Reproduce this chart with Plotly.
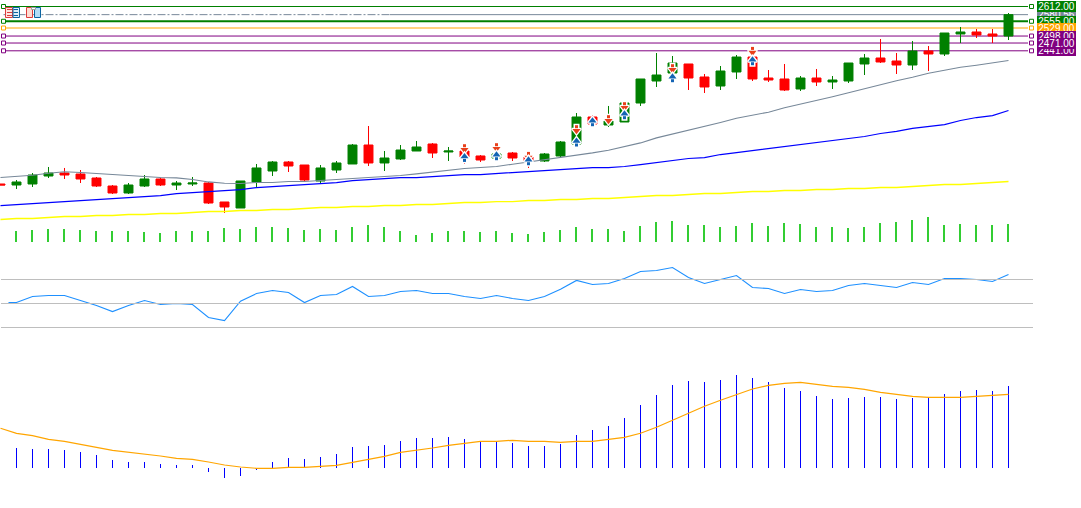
import plotly.graph_objects as go

W, H = 1081, 508

# ---------- data ----------
bars = list(range(64))
opens = [1926.9,1923,1926.9,1957.7,1969.3,1965.4,1950,1919.1,1892.1,1919.1,1946.2,1923,1926.9,1930.7,1857.4,1834.2,1934.6,1977,2011.8,2000.2,1938.4,1980.9,2004.1,2077.4,2008,2023.4,2054.2,2081.3,2050.4,2054.2,2035,2027.2,2046.5,2031.1,2015.6,2035,2081.3,2185.5,2154.6,2166.2,2239.5,2324.4,2355.3,2390.1,2339.9,2305.1,2359.2,2417,2336,2332.2,2293.6,2336,2320.6,2324.4,2390.1,2413.2,2401.6,2386.2,2440.2,2428.7,2505.9,2513.6,2505.9,2498.1]
closes = [1923,1934.6,1961.6,1969.3,1961.6,1946.2,1919.1,1892.1,1923,1946.2,1923,1930.7,1930.7,1853.5,1838.1,1938.4,1988.7,2011.8,1996.3,1942.3,1988.7,2008,2077.4,2008,2027.2,2058.1,2069.7,2046.5,2054.2,2031.1,2019.5,2042.7,2027.2,2015.6,2042.7,2089,2185.5,2158.5,2170,2239.5,2332.2,2347.6,2393.9,2336,2301.3,2363,2417,2332.2,2328.3,2289.7,2336,2320.6,2328.3,2393.9,2413.2,2397.8,2386.2,2440.2,2428.7,2509.7,2513.6,2502,2498.1,2580.56]
highs = [1926.9,1942.3,1969.3,1992.5,1988.7,1980.9,1953.9,1923,1930.7,1961.6,1950,1938.4,1953.9,1934.6,1857.4,1938.4,2004.1,2015.6,2015.6,2000.2,2000.2,2015.6,2081.3,2150.7,2054.2,2077.4,2092.8,2085.1,2069.7,2065.8,2038.8,2054.2,2050.4,2038.8,2046.5,2092.8,2200.9,2193.2,2228,2239.5,2332.2,2432.5,2420.9,2390.1,2351.5,2382.3,2424.8,2417,2366.9,2390.1,2343.7,2370.8,2343.7,2393.9,2428.7,2486.6,2432.5,2478.8,2459.5,2509.7,2532.9,2525.2,2525.2,2586.9]
lows = [1923,1907.6,1915.3,1950,1946.2,1930.7,1915.3,1888.3,1888.3,1915.3,1919.1,1903.7,1919.1,1849.7,1814.9,1834.2,1915.3,1957.7,1973.2,1938.4,1930.7,1969.3,2004.1,1996.3,1977,2019.5,2054.2,2027.2,2015.6,2004.1,2011.8,2019.5,2015.6,1988.7,2011.8,2027.2,2081.3,2158.5,2146.9,2166.2,2228,2301.3,2324.4,2289.7,2278.1,2289.7,2332.2,2324.4,2320.6,2285.8,2285.8,2305.1,2293.6,2316.7,2347.6,2393.9,2351.5,2366.9,2363,2420.9,2471,2490.4,2471,2482.7]

ma_gray = [1951.9,1955.7,1960.8,1968.5,1974.3,1971.2,1967.3,1963.5,1959.6,1954.2,1951.9,1950.4,1944.2,1934.9,1929.9,1928.8,1932.6,1932.6,1936.5,1936.5,1940.3,1944.2,1948.1,1951.9,1954.2,1959.6,1965.8,1973.5,1980.1,1986.7,1990.5,1994.4,2003.3,2012.1,2018.7,2027.6,2038,2046.9,2057.3,2071.6,2085.5,2104.8,2119.1,2134.5,2149.9,2164.6,2180.8,2193.6,2204,2221.3,2234.9,2247.6,2263.8,2279.2,2294.7,2312,2325.6,2339.1,2354.5,2366.1,2377.7,2385.4,2393.1,2403.5]
ma_blue = [1843.8,1847.7,1851.5,1855.4,1859.2,1863.1,1867,1870.8,1874.7,1878.5,1882.4,1890.1,1894,1897.9,1901.7,1905.6,1913.3,1917.2,1921,1924.9,1928.8,1932.6,1940.3,1944.2,1948.1,1951.9,1951.9,1955.8,1959.6,1963.5,1963.5,1967.3,1971.2,1975.1,1978.9,1982.8,1986.6,1990.5,1990.5,1994.4,2002.1,2009.8,2017.5,2025.3,2029.1,2040.7,2048.4,2056.1,2063.8,2071.6,2079.3,2087,2094.8,2102.5,2110.2,2121.8,2129.6,2141.2,2148.8,2156.5,2172,2183.5,2191.2,2210.5]
ma_yellow = [1789.8,1793.7,1793.7,1797.5,1801.4,1801.4,1805.2,1805.2,1809.1,1809.1,1813,1813,1816.8,1820.7,1820.7,1824.5,1824.5,1828.4,1828.4,1832.3,1836.1,1836.1,1840,1840,1843.8,1843.8,1847.7,1847.7,1851.5,1855.4,1855.4,1859.2,1859.2,1863.1,1863.1,1867,1867,1870.8,1870.8,1874.7,1878.5,1882.4,1882.4,1886.3,1890.1,1890.1,1894,1897.9,1897.9,1901.7,1901.7,1905.6,1905.6,1909.4,1909.4,1913.3,1913.3,1917.2,1921,1924.9,1924.9,1928.8,1932.6,1936.5]

level_values = [2612, 2580.56, 2555, 2529, 2498, 2471, 2441]
level_labels = ["2612.00", "2580.56", "2555.00", "2529.00", "2498.00", "2471.00", "2441.00"]
level_colors = ["#008000", "#778899", "#008000", "#FFA500", "#800080", "#800080", "#800080"]
level_widths = [1, 1, 2, 1, 1, 1, 1]
label_order = [1, 0, 2, 3, 6, 4, 5]

down_bars = [29, 31, 33, 36, 38, 39, 42, 47]
down_prices = [2065, 2068.9, 2035.3, 2138.4, 2177, 2227.1, 2373.8, 2440.6]
up_bars = [29, 31, 33, 36, 37, 39, 42, 47]
up_prices = [2027.6, 2034.1, 2014.8, 2087, 2165.4, 2192.4, 2335.2, 2400.8]

vol_bars = list(range(1, 64))
volumes = [11,12,13,13,12,11,11,11,10,9,11,11,11,14,13,15,15,14,12,13,12,15,17,15,11,7,9,11,11,10,11,9,8,
           10,12,15,13,13,11,16,20,21,17,17,15,16,19,16,19,18,15,15,14,15,19,20,22,25,17,18,17,17,18]

rsi_bars = [0.5] + list(range(1, 64))
rsi = [50.8,50.8,55.8,56.7,56.7,52.8,48.3,43.3,48.3,52.5,49.2,50,49.2,38.3,35.8,51.9,58.3,60.8,59.2,50.8,56.7,57.5,64.2,55.8,56.7,60,60.8,58.3,58.3,55.8,54.2,56.7,54.2,52.5,
       55.8,61.9,69.2,65.8,66.7,70.8,76.7,77.5,80,71.7,66.7,70,73.3,63.3,62.5,58.3,61.7,60,60.8,65,66.7,65,63.3,67.5,65.8,70.8,70.8,70,68.3,74.2]
rsi_levels = [30, 50, 70]

macd = [20,19,19,18,16,13,8,6,6,4,3,3,-4,-10,-8,-2,6,10,9,11,14,21,22,23,27,30,30,31,29,26,26,25,22,
        22,24,33,38,42,50,63,73,83,87,86,88,93,90,86,80,77,72,69,70,71,71,69,70,70,74,77,78,77,82]
signal = [39.7,34.7,32.3,28.7,26.7,24,20.7,17.7,16,13.7,12,9.7,8.7,6,3,1,-0.3,-0.3,0.7,0.7,1.7,2.7,5.7,8.7,11.7,15.7,17.7,20,22.7,24.7,26.7,26.7,27.7,26.7,
          26.7,25.7,26.7,26.7,28.7,30.7,34.7,40.7,47.7,54.7,61.7,67.7,73.7,79,82.7,84.7,85.7,83.7,81.7,80.7,78.7,75.7,73.7,71.7,70.7,70.7,70.7,71.7,72.7,73.7]


# ---------- pixel helpers for layout only ----------
BAR_STEP = 16.0
PRICE_PER_PX = 3.86
def x_of_px(px):
    return (px - 0.5) / BAR_STEP

def pane_range(value, px, px_per_unit):
    """y-axis range that puts `value` at pixel row `px` of the full-height plot."""
    return [value - (H - px) / px_per_unit, value + px / px_per_unit]

xr = [x_of_px(0), x_of_px(W)]
LINE_END = x_of_px(1028)
HANDLE_L = x_of_px(3.5)
HANDLE_R = x_of_px(1031.5)
LEVEL_L = x_of_px(1)
LEVEL_R = x_of_px(1033)

fig = go.Figure()

# candles
fig.add_trace(go.Candlestick(
    x=bars, open=opens, high=highs, low=lows, close=closes,
    whiskerwidth=0,
    increasing=dict(line=dict(color="#008000", width=1), fillcolor="#008000"),
    decreasing=dict(line=dict(color="#FF0000", width=1), fillcolor="#FF0000"),
    hoverinfo="skip", yaxis="y"))

# moving averages
for vals, col, lw in ((ma_yellow, "#FFFF00", 1.3), (ma_blue, "#0000FF", 1.25), (ma_gray, "#778899", 1.1)):
    fig.add_trace(go.Scatter(x=bars, y=vals, mode="lines", line=dict(color=col, width=lw),
                             hoverinfo="skip", yaxis="y"))

# line handles
for v, c, w in zip(level_values, level_colors, level_widths):
    if c == "#778899":
        continue
    fig.add_trace(go.Scatter(x=[HANDLE_L, HANDLE_R], y=[v, v], mode="markers",
                             marker=dict(symbol="square", size=4, color="white", line=dict(color=c, width=1)),
                             hoverinfo="skip", yaxis="y"))

# signal arrows: block arrows built of a head and a shaft, white halo around both
def arrow(xs, ys, head_sym, head_dy, shaft_dy, col):
    head_y = [v + head_dy * PRICE_PER_PX for v in ys]
    shaft_y = [v + shaft_dy * PRICE_PER_PX for v in ys]
    for sy, sym, size, lw, mc in ((shaft_y, "square", 4, 2, "white"), (head_y, head_sym, 8, 2, "white"),
                                  (shaft_y, "square", 3, 0, col), (head_y, head_sym, 7, 0, col)):
        fig.add_trace(go.Scatter(x=xs, y=sy, mode="markers",
                                 marker=dict(symbol=sym, size=size, color=mc, line=dict(color="white", width=lw)),
                                 hoverinfo="skip", yaxis="y"))

arrow(down_bars, down_prices, "triangle-down", -1.5, 2.5, "#E8401C")
arrow(up_bars, up_prices, "triangle-up", 1.5, -2.5, "#1464B4")

# volume
fig.add_trace(go.Bar(x=vol_bars, y=volumes, width=2 / BAR_STEP, offset=-1.5 / BAR_STEP,
                     marker=dict(color="#32CD32", line=dict(width=0)), hoverinfo="skip", yaxis="y2"))

# RSI
fig.add_trace(go.Scatter(x=rsi_bars, y=rsi, mode="lines", line=dict(color="#1E90FF", width=1.1),
                         hoverinfo="skip", yaxis="y3"))
for lv in rsi_levels:
    fig.add_trace(go.Scatter(x=[LEVEL_L, LEVEL_R], y=[lv, lv], mode="lines", line=dict(color="#BEBEBE", width=1),
                             hoverinfo="skip", yaxis="y3"))

# MACD
fig.add_trace(go.Bar(x=vol_bars, y=macd, width=1 / BAR_STEP,
                     marker=dict(color="#0000FF", line=dict(width=0)), hoverinfo="skip", yaxis="y4"))
fig.add_trace(go.Scatter(x=bars, y=signal, mode="lines", line=dict(color="#FFA500", width=1.2),
                         hoverinfo="skip", yaxis="y4"))

# price levels behind the candles
shapes = []
for v, c, w in zip(level_values, level_colors, level_widths):
    if c == "#778899":
        shapes.append(dict(type="line", xref="x", yref="y", layer="below", x0=HANDLE_L, x1=x_of_px(390), y0=v, y1=v,
                           line=dict(color=c, width=1, dash="8px,2px,2px,2px")))
        shapes.append(dict(type="line", xref="x", yref="y", layer="below", x0=x_of_px(390), x1=LINE_END, y0=v, y1=v,
                           line=dict(color=c, width=1)))
    else:
        shapes.append(dict(type="line", xref="x", yref="y", layer="below", x0=HANDLE_L, x1=LINE_END, y0=v, y1=v,
                           line=dict(color=c, width=w)))

# toolbar icons top-left (pixel layout)
def px_rect(x0, y0, x1, y1, line, fill):
    return dict(type="rect", xref="paper", yref="paper", x0=x0 / W, x1=x1 / W, y0=1 - y0 / H, y1=1 - y1 / H,
                line=dict(color=line, width=1), fillcolor=fill, layer="above")

def px_line(x0, x1, y, col):
    return dict(type="line", xref="paper", yref="paper", x0=x0 / W, x1=x1 / W, y0=1 - y / H, y1=1 - y / H,
                line=dict(color=col, width=1), layer="above")

RED_I, BLUE_I = "#DC3C3C", "#0A64A0"
shapes += [px_rect(5.5, 7.5, 12.5, 17.5, RED_I, "#FFE6E0"), px_rect(13, 7.5, 19.5, 17.5, BLUE_I, "#DCEFFA")]
for yy in (9.5, 12.5, 15.5):
    shapes += [px_line(7, 12, yy, RED_I), px_line(13.5, 18, yy, BLUE_I)]
shapes += [px_rect(26.5, 7.5, 32.5, 17.5, RED_I, "#FFDCD2"), px_rect(34.5, 7.5, 40.5, 17.5, BLUE_I, "#B4DCF5"),
           px_rect(31.5, 7.5, 35.5, 9.5, "#A0A0A0", "#FFFFFF")]

# level labels
annotations = []
for k in label_order:
    annotations.append(dict(
        text=level_labels[k], xref="paper", yref="y", x=1056.5 / W, y=level_values[k],
        xanchor="center", yanchor="middle", showarrow=False, width=39, height=11,
        align="center", valign="middle", borderpad=0, borderwidth=0,
        bgcolor=level_colors[k], font=dict(family="Liberation Sans", size=10, color="white")))

hidden = dict(visible=False, fixedrange=True)
fig.update_layout(
    width=W, height=H, margin=dict(l=0, r=0, t=0, b=0),
    paper_bgcolor="white", plot_bgcolor="white",
    showlegend=False, barmode="overlay", boxgap=0.2, hovermode=False,
    shapes=shapes, annotations=annotations,
    xaxis=dict(range=xr, rangeslider=dict(visible=False), **hidden),
    yaxis=dict(range=[2637.1 - H * PRICE_PER_PX, 2637.1], domain=[0, 1], **hidden),
    yaxis2=dict(range=pane_range(0, 242, 1), overlaying="y", domain=[0, 1], **hidden),
    yaxis3=dict(range=pane_range(50, 303.5, 1.2), overlaying="y", domain=[0, 1], **hidden),
    yaxis4=dict(range=pane_range(0, 468, 1), overlaying="y", domain=[0, 1], **hidden),
)

fig.write_html("out.html", config=dict(displayModeBar=False),
               post_script="document.body.style.margin='0';document.body.style.overflow='hidden';")
